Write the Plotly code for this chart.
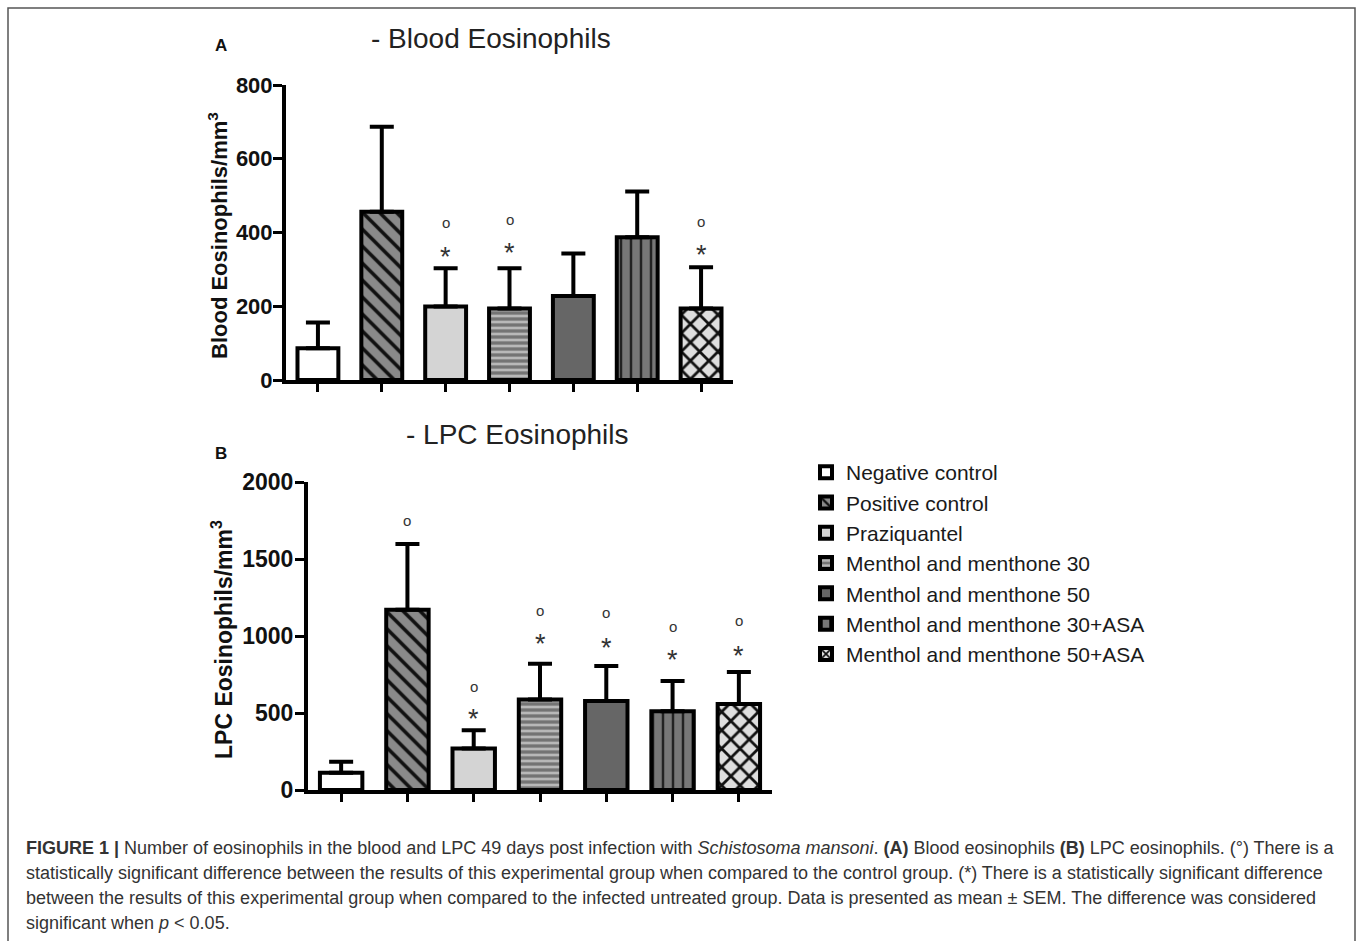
import plotly.graph_objects as go

W, H = 1358, 941

# ---------------- data ----------------
groups = [
    "Negative control",
    "Positive control",
    "Praziquantel",
    "Menthol and menthone 30",
    "Menthol and menthone 50",
    "Menthol and menthone 30+ASA",
    "Menthol and menthone 50+ASA",
]

blood_mean = [86, 456, 199, 194, 228, 387, 194]
blood_sem = [70, 231, 104, 109, 115, 124, 112]
blood_circle = [None, None, 428, 436, None, None, 431]   # (°) vs control
blood_star = [None, None, 334, 344, None, None, 339]     # (*) vs infected untreated

lpc_mean = [112, 1170, 270, 587, 578, 511, 559]
lpc_sem = [71, 427, 118, 233, 227, 197, 207]
lpc_circle = [None, 1748, 675, 1165, 1154, 1064, 1098]
lpc_star = [None, None, 460, 947, 922, 846, 868]

blood_ticks = [0, 200, 400, 600, 800]
lpc_ticks = [0, 500, 1000, 1500, 2000]

# ---------------- styles ----------------
bg_colors = ["#ffffff", "#8a8a8a", "#d4d4d4", "#767676", "#666666", "#777777", "#dcdcdc"]
patterns = [
    dict(shape=""),
    dict(shape="\\", fgcolor="#111111", bgcolor="#8a8a8a", size=12, solidity=0.3),
    dict(shape=""),
    dict(shape="-", fgcolor="#b8b8b8", bgcolor="#747474", size=6, solidity=0.45),
    dict(shape=""),
    dict(shape="|", fgcolor="#222222", bgcolor="#777777", size=10, solidity=0.25),
    dict(shape="x", fgcolor="#111111", bgcolor="#dedede", size=13, solidity=0.38),
]


def px(x):
    return x / W


def py(y):
    return 1 - y / H


fig = go.Figure()

for i, g in enumerate(groups):
    for mean, sem, xa, ya, show in [
        (blood_mean, blood_sem, "x", "y", True),
        (lpc_mean, lpc_sem, "x2", "y2", False),
    ]:
        fig.add_trace(
            go.Bar(
                x=[g],
                y=[mean[i]],
                width=[0.64],
                name=g,
                legendgroup=g,
                showlegend=show,
                xaxis=xa,
                yaxis=ya,
                marker=dict(
                    color=bg_colors[i],
                    line=dict(color="black", width=4),
                    pattern=patterns[i],
                ),
                error_y=dict(
                    type="data",
                    symmetric=False,
                    array=[sem[i]],
                    arrayminus=[0],
                    thickness=4,
                    width=12,
                    color="black",
                ),
                hoverinfo="skip",
            )
        )

annotations = []
for circ, star, xr, yr in [
    (blood_circle, blood_star, "x", "y"),
    (lpc_circle, lpc_star, "x2", "y2"),
]:
    for i, g in enumerate(groups):
        if circ[i] is not None:
            annotations.append(dict(x=g, y=circ[i], xref=xr, yref=yr, text="o", showarrow=False,
                                    font=dict(family="Liberation Sans", size=15, color="#333333"),
                                    yanchor="middle"))
        if star[i] is not None:
            annotations.append(dict(x=g, y=star[i], xref=xr, yref=yr, text="*", showarrow=False,
                                    font=dict(family="Liberation Sans", size=27, color="#333333"),
                                    yanchor="middle"))

# titles and panel labels
annotations += [
    dict(x=px(491), y=py(38), xref="paper", yref="paper", text="- Blood Eosinophils", showarrow=False,
         font=dict(family="Liberation Sans", size=28, color="#222222"), xanchor="center", yanchor="middle"),
    dict(x=px(517), y=py(434), xref="paper", yref="paper", text="- LPC Eosinophils", showarrow=False,
         font=dict(family="Liberation Sans", size=28, color="#222222"), xanchor="center", yanchor="middle"),
    dict(x=px(221), y=py(46), xref="paper", yref="paper", text="<b>A</b>", showarrow=False,
         font=dict(family="Liberation Sans", size=17, color="#111111"), xanchor="center", yanchor="middle"),
    dict(x=px(221), y=py(453), xref="paper", yref="paper", text="<b>B</b>", showarrow=False,
         font=dict(family="Liberation Sans", size=17, color="#111111"), xanchor="center", yanchor="middle"),
    dict(x=px(218), y=py(236), xref="paper", yref="paper", text="<b>Blood Eosinophils/mm<sup>3</sup></b>",
         showarrow=False, textangle=-90,
         font=dict(family="Liberation Sans", size=22, color="#111111"), xanchor="center", yanchor="middle"),
    dict(x=px(222), y=py(640), xref="paper", yref="paper", text="<b>LPC Eosinophils/mm<sup>3</sup></b>",
         showarrow=False, textangle=-90,
         font=dict(family="Liberation Sans", size=23, color="#111111"), xanchor="center", yanchor="middle"),
]

caption_lines = [
    "<b>FIGURE 1 |</b> Number of eosinophils in the blood and LPC 49 days post infection with "
    "<i>Schistosoma mansoni</i>. <b>(A)</b> Blood eosinophils <b>(B)</b> LPC eosinophils. (°) There is a",
    "statistically significant difference between the results of this experimental group when compared "
    "to the control group. (*) There is a statistically significant difference",
    "between the results of this experimental group when compared to the infected untreated group. "
    "Data is presented as mean ± SEM. The difference was considered",
    "significant when <i>p</i> &lt; 0.05.",
]
caption_y = [848, 873, 898, 923]
for line, yy in zip(caption_lines, caption_y):
    annotations.append(dict(x=px(24), y=py(yy), xref="paper", yref="paper", text=line, showarrow=False,
                            font=dict(family="Liberation Sans", size=18, color="#333333"),
                            xanchor="left", yanchor="middle", align="left"))

axis_common = dict(
    showline=True, linewidth=4, linecolor="black", showgrid=False, zeroline=False,
    ticks="outside", tickwidth=3, tickcolor="black", fixedrange=True, automargin=False,
)

fig.update_layout(
    template="none",
    width=W,
    height=H,
    margin=dict(l=0, r=0, t=0, b=0, pad=0, autoexpand=False),
    paper_bgcolor="white",
    plot_bgcolor="white",
    barmode="overlay",
    annotations=annotations,
    xaxis=dict(domain=[px(286), px(733)], anchor="y", type="category", categoryorder="array",
               categoryarray=groups, range=[-0.5, 6.5], showticklabels=False, ticklen=8, **axis_common),
    yaxis=dict(domain=[py(380), py(85)], anchor="x", range=[0, 800], tickvals=blood_ticks, ticklen=9,
               ticklabelstandoff=-4,
               tickfont=dict(family="Liberation Sans", size=22, color="#111111", weight="bold"),
               **axis_common),
    xaxis2=dict(domain=[px(308), px(772)], anchor="y2", type="category", categoryorder="array",
                categoryarray=groups, range=[-0.5, 6.5], showticklabels=False, ticklen=8, **axis_common),
    yaxis2=dict(domain=[py(790), py(482)], anchor="x2", range=[0, 2000], tickvals=lpc_ticks, ticklen=9,
                ticklabelstandoff=-3,
                tickfont=dict(family="Liberation Sans", size=23, color="#111111", weight="bold"),
                **axis_common),
    legend=dict(x=px(806), y=py(452), xanchor="left", yanchor="top", bgcolor="rgba(0,0,0,0)",
                font=dict(family="Liberation Sans", size=21, color="#1a1a1a"), traceorder="normal"),
    shapes=[dict(type="rect", xref="paper", yref="paper", x0=px(8), x1=px(1355), y0=py(948), y1=py(8),
                 line=dict(color="#555555", width=1.5))],
)

fig.write_html(
    "out.html",
    config={"displayModeBar": False},
    post_script="document.body.style.margin='0';document.body.style.overflow='hidden';",
)
